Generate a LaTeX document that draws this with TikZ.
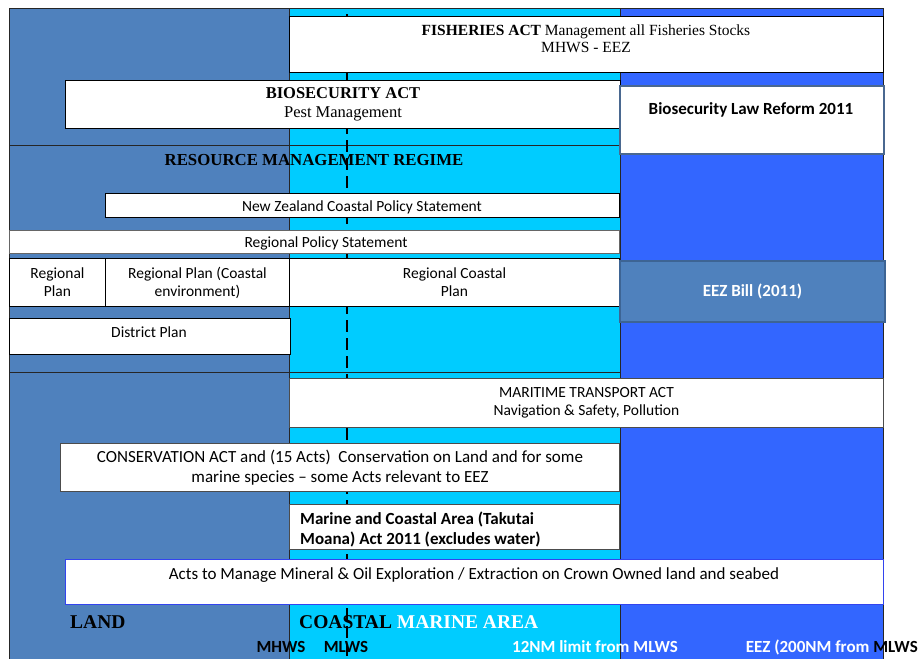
\documentclass[tikz,border=0pt]{standalone}
\usepackage{fontspec}
\setmainfont{Liberation Serif}
\newfontfamily\carl{Carlito}
\definecolor{landc}{HTML}{4F81BD}
\definecolor{coastc}{HTML}{00CCFF}
\definecolor{eezc}{HTML}{3366FF}
\definecolor{bordb}{HTML}{4A6890}
\definecolor{bordeez}{HTML}{3D6494}
\definecolor{actsb}{HTML}{3344EE}
\begin{document}
\begin{tikzpicture}[x=1pt,y=-1pt,
  box/.style={draw=black, fill=white, line width=1pt, inner sep=0pt, anchor=north west, align=center},
  frame/.style={draw=black!85, line width=1pt},
  sans/.style={font=\carl\fontsize{15.5}{18}\selectfont, inner sep=0pt, align=center},
  sansbig/.style={font=\carl\fontsize{17}{20}\selectfont, inner sep=0pt, align=center},
  sansb/.style={font=\carl\bfseries\fontsize{17}{20}\selectfont, inner sep=0pt, align=center},
  serif/.style={font=\fontsize{15.5}{17}\selectfont, inner sep=0pt, align=center},
  titleb/.style={font=\bfseries\fontsize{19.5}{22}\selectfont, inner sep=0pt},
  dashline/.style={line width=2.6pt, dash pattern=on 12pt off 6pt}
]
\useasboundingbox (0,0) rectangle (922,659);
\fill[white] (0,0) rectangle (922,659);
% columns
\fill[landc] (9,8) rectangle (289,659);
\fill[coastc] (289,8) rectangle (620,659);
\fill[eezc] (620,8) rectangle (883,659);
\draw[frame] (9,659) -- (9,8) -- (883,8) -- (883,659);
\draw[frame] (289,8) -- (289,659);
\draw[frame] (620,8) -- (620,659);
\draw[frame] (9,145) rectangle (620,372);
% titles
\node[titleb, font=\bfseries\fontsize{16.8}{20}\selectfont] (rmr) at (314,160) {RESOURCE MANAGEMENT REGIME};
\node[titleb, anchor=west] (land) at (70,622) {LAND};
\node[titleb, anchor=west] (cma) at (299,622) {COASTAL \textcolor{white}{MARINE AREA}};
% dashed line
\draw[dashline] (347,14) -- (347,659);
% boxes
\node[box, minimum width=594pt, minimum height=56pt] (fish) at (289,16) {};
\node[serif] (fisht) at (586,38.5) {{\bfseries FISHERIES ACT} Management all Fisheries Stocks\\MHWS - EEZ};
\node[box, minimum width=555pt, minimum height=48pt, font=\fontsize{16.5}{19}\selectfont] (bioact) at (65,80) {{\bfseries BIOSECURITY ACT}\\Pest Management};
\node[box, draw=bordb, line width=2pt, minimum width=264pt, minimum height=68pt] (biolaw) at (619,85) {};
\node[sansb] (biolawt) at (751,110) {Biosecurity Law Reform 2011};
\node[box, minimum width=514pt, minimum height=24pt] (nzcps) at (105,193) {};
\node[sans] (nzcpst) at (362,207) {New Zealand Coastal Policy Statement};
\node[box, draw=black!60, minimum width=610pt, minimum height=23pt] (rps) at (9,230) {};
\node[sans] (rpst) at (326,243.5) {Regional Policy Statement};
\node[box, minimum width=96pt, minimum height=48pt, sans] (rp) at (9,258) {Regional\\Plan};
\node[box, minimum width=184pt, minimum height=48pt, sans] (rpce) at (105,258) {Regional Plan (Coastal\\environment)};
\node[box, minimum width=330pt, minimum height=48pt, sans] (rcp) at (289,258) {Regional Coastal\\Plan};
\node[box, fill=landc, draw=bordeez, line width=2pt, minimum width=265pt, minimum height=61pt, sansb, text=white] (eez) at (619,260) {EEZ Bill (2011)};
\node[box, minimum width=281pt, minimum height=36pt] (dp) at (9,318) {};
\node[sans] (dpt) at (149,332.5) {District Plan};
\node[box, draw=black!70, minimum width=594pt, minimum height=49pt, sans] (mta) at (289,378) {MARITIME TRANSPORT ACT\\Navigation \& Safety, Pollution};
\node[box, draw=black!70, minimum width=559pt, minimum height=48pt, sansbig] (cons) at (60,443) {CONSERVATION ACT and (15 Acts)\ \ Conservation on Land and for some\\marine species – some Acts relevant to EEZ};
\node[box, draw=black!70, minimum width=330pt, minimum height=45pt] (mca) at (289,504) {};
\node[sansb, align=left, anchor=west] (mcat) at (300,529) {Marine and Coastal Area (Takutai\\Moana) Act 2011 (excludes water)};
\node[box, draw=actsb, minimum width=818pt, minimum height=45pt] (acts) at (65,559) {};
\node[sansbig] (actst) at (474,575) {Acts to Manage Mineral \& Oil Exploration / Extraction on Crown Owned land and seabed};
% bottom labels
\node[sansb] (mhws) at (281,647) {MHWS};
\node[sansb] (mlws) at (346,647) {MLWS};
\node[sansb, text=white] (nm12) at (595,647) {12NM limit from MLWS};
\node[sansb, anchor=east] (eezl) at (918,647) {\textcolor{white}{EEZ (200NM from }MLWS};
\end{tikzpicture}
\end{document}
